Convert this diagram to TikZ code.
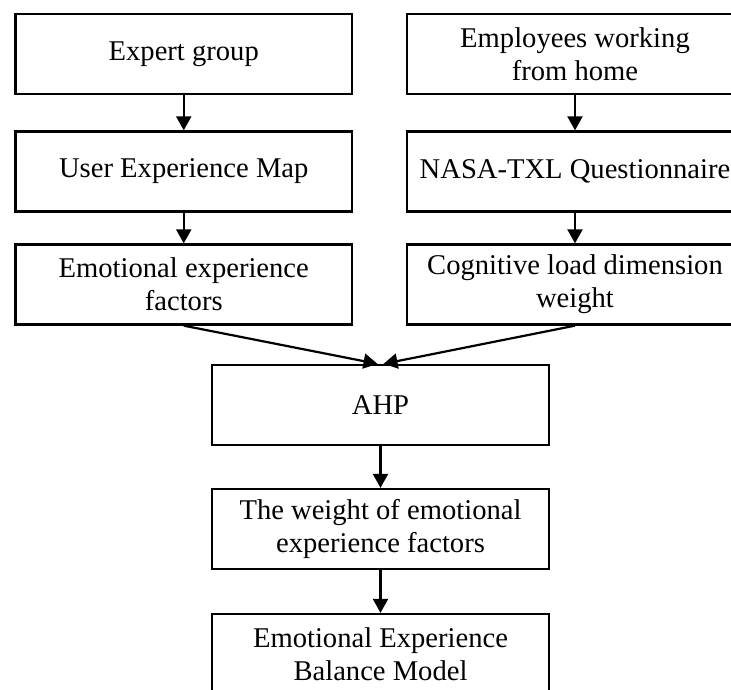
\documentclass[tikz,border=0pt]{standalone}
\usepackage{fontspec}
\setmainfont{Liberation Serif}
\usetikzlibrary{arrows.meta}
\begin{document}
\begin{tikzpicture}[x=1pt,y=1pt,
  boxnode/.style={draw=black, line width=2.3pt, rectangle, minimum width=336.5pt, minimum height=80pt, inner sep=0pt, align=center, font=\fontsize{28.6}{33}\selectfont},
  flowarrow/.style={line width=2.2pt, -{Triangle[length=14pt,width=15pt]}}]
\useasboundingbox (0,0) rectangle (731,-689);
\clip (0,0) rectangle (731,-689);
\node[boxnode] (l1) at (183.75,-54) {Expert group};
\node[boxnode] (r1) at (575,-54) {Employees working\\from home};
\node[boxnode] (l2) at (183.75,-171.5) {User Experience Map};
\node[boxnode] (r2) at (575,-171.5) {NASA-TXL Questionnaire};
\node[boxnode] (l3) at (183.75,-284.5) {Emotional experience\\factors};
\node[boxnode] (r3) at (575,-284.5) {Cognitive load dimension\\weight};
\node[boxnode] (ahp) at (380.5,-405) {AHP};
\node[boxnode] (w) at (380.5,-529) {The weight of emotional\\experience factors};
\node[boxnode] (m) at (380.5,-654) {Emotional Experience\\Balance Model};
\draw[flowarrow] (l1) -- (l2);
\draw[flowarrow] (r1) -- (r2);
\draw[flowarrow] (l2) -- (l3);
\draw[flowarrow] (r2) -- (r3);
\draw[flowarrow] (l3.south) -- ([xshift=-3pt]ahp.north);
\draw[flowarrow] (r3.south) -- ([xshift=3pt]ahp.north);
\draw[flowarrow] (ahp) -- (w);
\draw[flowarrow] (w) -- (m);
\end{tikzpicture}
\end{document}
